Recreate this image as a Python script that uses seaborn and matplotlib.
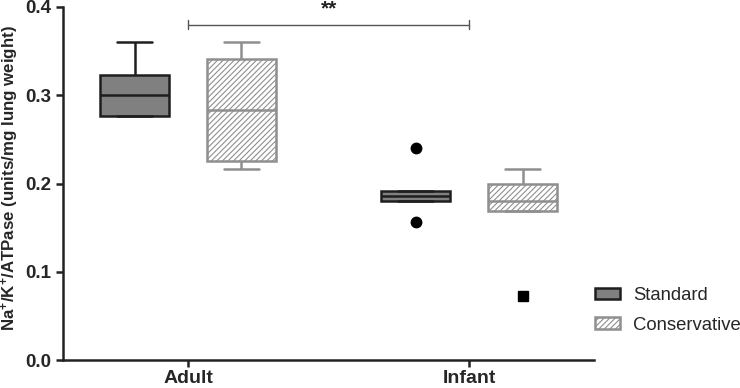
import numpy as np
import pandas as pd
import matplotlib
matplotlib.use("Agg")
import matplotlib.pyplot as plt
from matplotlib.patches import Patch
import seaborn as sns

# ---- data ----
ages = ["Adult", "Infant"]
groups = ["Standard", "Conservative"]
adult_standard = [0.277, 0.277, 0.300, 0.323, 0.360]
adult_conservative = [0.216, 0.226, 0.283, 0.341, 0.360]
infant_standard = [0.156, 0.180, 0.180, 0.186, 0.1915, 0.1915, 0.240]
infant_conservative = [0.0725, 0.169, 0.169, 0.180, 0.200, 0.200, 0.216]
y_ticks = [0.0, 0.1, 0.2, 0.3, 0.4]
y_label = r"Na$^{+}$/K$^{+}$/ATPase (units/mg lung weight)"
sig_text = "**"
sig_y = 0.38

rows = []
for age, grp, vals in [("Adult", "Standard", adult_standard),
                       ("Adult", "Conservative", adult_conservative),
                       ("Infant", "Standard", infant_standard),
                       ("Infant", "Conservative", infant_conservative)]:
    for v in vals:
        rows.append({"age": age, "group": grp, "value": v})
df = pd.DataFrame(rows)

sns.set_style("ticks")
plt.rcParams["font.family"] = ["Liberation Sans", "DejaVu Sans"]
plt.rcParams["mathtext.fontset"] = "custom"
plt.rcParams["mathtext.rm"] = "Liberation Sans:bold"
plt.rcParams["mathtext.bf"] = "Liberation Sans:bold"
plt.rcParams["mathtext.default"] = "bf"
plt.rcParams["hatch.linewidth"] = 0.8

STD_FILL = "#808080"
STD_EDGE = "#1e1e1e"
CON_EDGE = "#8f8f8f"

fig = plt.figure(figsize=(7.4, 3.88), dpi=100)
ax = fig.add_axes([0.085, 0.072, 0.718, 0.910])

sns.boxplot(data=df, x="age", y="value", hue="group", order=ages, hue_order=groups,
            palette={"Standard": STD_FILL, "Conservative": "white"},
            width=0.76, gap=0.35, linewidth=1.8, linecolor=STD_EDGE,
            flierprops=dict(marker="o", markerfacecolor="black", markeredgecolor="black",
                            markersize=7.5),
            legend=False, ax=ax)

# style per hue
for p in ax.patches:
    verts = p.get_path().vertices
    xm = np.mean(verts[:, 0])
    if xm - round(xm) > 0:
        p.set_facecolor("white")
        p.set_edgecolor(CON_EDGE)
        p.set_hatch("//////")
for ln in ax.lines:
    xd = np.asarray(ln.get_xdata(), dtype=float)
    if xd.size == 0:
        continue
    xm = np.mean(xd)
    if xm - round(xm) > 0:
        if ln.get_marker() not in (None, "None", "none", ""):
            ln.set_marker("s")
            ln.set_markersize(6.5)
        else:
            ln.set_color(CON_EDGE)

ax.set_ylim(0, 0.4)
ax.set_xlim(-0.445, 1.445)
ax.set_yticks(y_ticks)
ax.set_yticklabels([f"{t:.1f}" for t in y_ticks])
ax.set_xlabel("")
ax.set_ylabel(y_label, fontsize=12.2, fontweight="bold")
ax.yaxis.set_label_coords(-0.079, 0.515)
ax.tick_params(axis="y", labelsize=13.5, width=1.8, length=5, color="#222222")
ax.tick_params(axis="x", labelsize=14, width=1.8, length=5, pad=2.5, color="#222222")
for lab in ax.get_xticklabels() + ax.get_yticklabels():
    lab.set_fontweight("bold")
for s in ["left", "bottom"]:
    ax.spines[s].set_linewidth(1.8)
    ax.spines[s].set_color("#222222")
sns.despine(ax=ax)

# significance bar
ax.plot([0, 1], [sig_y, sig_y], color="#555555", lw=1, clip_on=False)
ax.plot([0, 0], [sig_y - 0.005, sig_y + 0.005], color="#555555", lw=1, clip_on=False)
ax.plot([1, 1], [sig_y - 0.005, sig_y + 0.005], color="#555555", lw=1, clip_on=False)
ax.text(0.5, 0.398, sig_text, ha="center", va="center", fontsize=15,
        fontweight="bold", color="#222222", clip_on=False)

handles = [Patch(facecolor=STD_FILL, edgecolor=STD_EDGE, linewidth=1.8, label="Standard"),
           Patch(facecolor="white", edgecolor=CON_EDGE, linewidth=1.8, hatch="//////",
                 label="Conservative")]
fig.legend(handles=handles, loc="center left", bbox_to_anchor=(0.782, 0.20),
           frameon=False, fontsize=13.3, handlelength=1.35, handleheight=0.6,
           handletextpad=0.7, labelspacing=0.7)

fig.savefig("out.png", dpi=100)
